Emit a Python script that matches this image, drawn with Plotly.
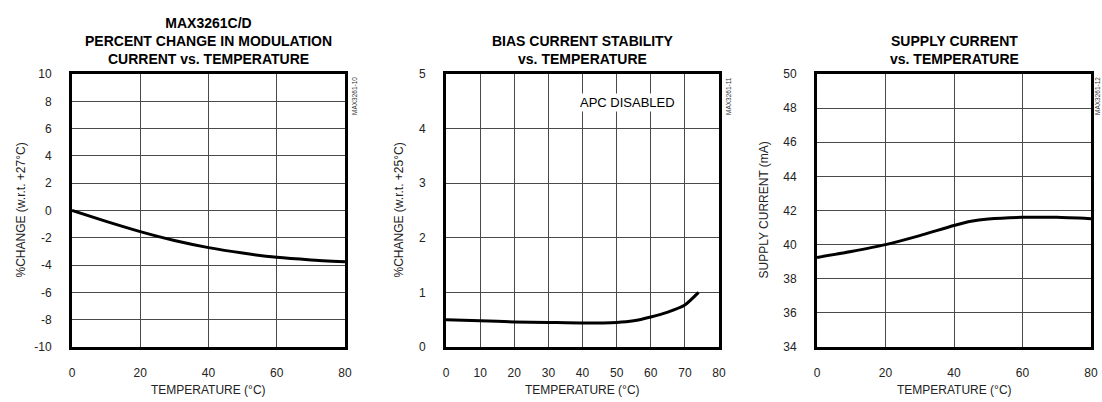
import plotly.graph_objects as go

FONT = "Liberation Sans, Arial, sans-serif"

# Chart 1: percent change in modulation current
mod_temp = [0, 10, 20, 30, 40, 50, 60, 70, 80]
mod_change = [0.0, -0.8, -1.55, -2.2, -2.72, -3.12, -3.43, -3.62, -3.75]

# Chart 2: bias current stability
bias_temp = [0, 10, 20, 30, 40, 50, 55, 60, 65, 70, 74]
bias_change = [0.5, 0.48, 0.46, 0.45, 0.44, 0.45, 0.48, 0.55, 0.64, 0.77, 1.0]

# Chart 3: supply current
sup_temp = [0, 10, 20, 30, 40, 45, 50, 60, 70, 80]
sup_current = [39.25, 39.6, 40.0, 40.53, 41.12, 41.37, 41.5, 41.6, 41.6, 41.52]

# Tick labels
ticks_x20 = [0, 20, 40, 60, 80]
ticks_x10 = [0, 10, 20, 30, 40, 50, 60, 70, 80]
ticks_y1 = [-10, -8, -6, -4, -2, 0, 2, 4, 6, 8, 10]
ticks_y2 = [0, 1, 2, 3, 4, 5]
ticks_y3 = [34, 36, 38, 40, 42, 44, 46, 48, 50]

titles = ["MAX3261C/D<br>PERCENT CHANGE IN MODULATION<br>CURRENT vs. TEMPERATURE",
          "BIAS CURRENT STABILITY<br>vs. TEMPERATURE",
          "SUPPLY CURRENT<br>vs. TEMPERATURE"]
y_titles = ["%CHANGE (w.r.t. +27°C)", "%CHANGE (w.r.t. +25°C)", "SUPPLY CURRENT (mA)"]
x_title = "TEMPERATURE (°C)"
codes = ["MAX3261-10", "MAX3261-11", "MAX3261-12"]

W, H = 1102, 402
boxes = [(72, 345), (446, 719), (817, 1091)]
code_x = [354, 728, 1097]
ytop, ybot = 74, 347
ydom = [1 - ybot / H, 1 - ytop / H]

fig = go.Figure()
series = [(mod_temp, mod_change), (bias_temp, bias_change), (sup_temp, sup_current)]
xranges = [[0, 80], [0, 80], [0, 80]]
xticks = [ticks_x20, ticks_x10, ticks_x20]
yranges = [[-10, 10], [0, 5], [34, 50]]
yticks = [ticks_y1, ticks_y2, ticks_y3]
ytitle_x = [20, 398, 763]

for i, (xs, ys) in enumerate(series):
    n = "" if i == 0 else str(i + 1)
    fig.add_trace(go.Scatter(x=xs, y=ys, mode="lines",
                             line=dict(color="black", width=3, shape="spline", smoothing=0.6),
                             xaxis="x" + n, yaxis="y" + n, showlegend=False, hoverinfo="skip"))
    l, r = boxes[i]
    axis_common = dict(showline=True, mirror=True, linecolor="black", linewidth=3,
                       showgrid=True, gridcolor="#4a4a4a", gridwidth=1, zeroline=False,
                       ticks="", automargin=False,
                       tickfont=dict(family=FONT, size=12, color="#222"))
    fig.layout["xaxis" + n] = dict(domain=[l / W, r / W], anchor="y" + n, range=xranges[i],
                                    tickmode="array", tickvals=xticks[i],
                                    ticktext=[str(v) for v in xticks[i]],
                                    ticklabelstandoff=13, **axis_common)
    fig.layout["yaxis" + n] = dict(domain=ydom, anchor="x" + n, range=yranges[i],
                                    tickmode="array", tickvals=yticks[i],
                                    ticktext=[str(v) for v in yticks[i]],
                                    ticklabelstandoff=15, **axis_common)
    # x axis title
    fig.add_annotation(text=x_title, xref="paper", yref="paper", x=(l + r) / 2 / W, y=1 - 390 / H,
                       xanchor="center", yanchor="middle", showarrow=False,
                       font=dict(family=FONT, size=12, color="#222"))
    # y axis title
    fig.add_annotation(text=y_titles[i], xref="paper", yref="paper", x=ytitle_x[i] / W,
                       y=(ydom[0] + ydom[1]) / 2, textangle=-90, xanchor="center", yanchor="middle",
                       showarrow=False, font=dict(family=FONT, size=12, color="#222"))
    # chart title
    fig.add_annotation(text="<b>" + titles[i] + "</b>", xref="paper", yref="paper",
                       x=(l + r) / 2 / W, y=1 - (ytop - 5) / H, xanchor="center", yanchor="bottom",
                       showarrow=False, font=dict(family=FONT, size=14, color="black"), align="center")
    # part code
    fig.add_annotation(text=codes[i], xref="paper", yref="paper", x=code_x[i] / W, y=1 - 96 / H,
                       textangle=-90, showarrow=False, font=dict(family=FONT, size=6.5, color="#333"),
                       xanchor="center", yanchor="middle", borderpad=0)

fig.add_annotation(text="APC DISABLED", xref="x2", yref="y2", x=53.3, y=4.47, showarrow=False,
                   bgcolor="white", font=dict(family=FONT, size=13, color="black"), borderpad=1)

fig.update_layout(width=W, height=H, margin=dict(l=0, r=0, t=0, b=0),
                  paper_bgcolor="white", plot_bgcolor="white")

fig.write_html("out.html", config={"displayModeBar": False},
               post_script="document.body.style.margin='0';document.body.style.overflow='hidden';")
